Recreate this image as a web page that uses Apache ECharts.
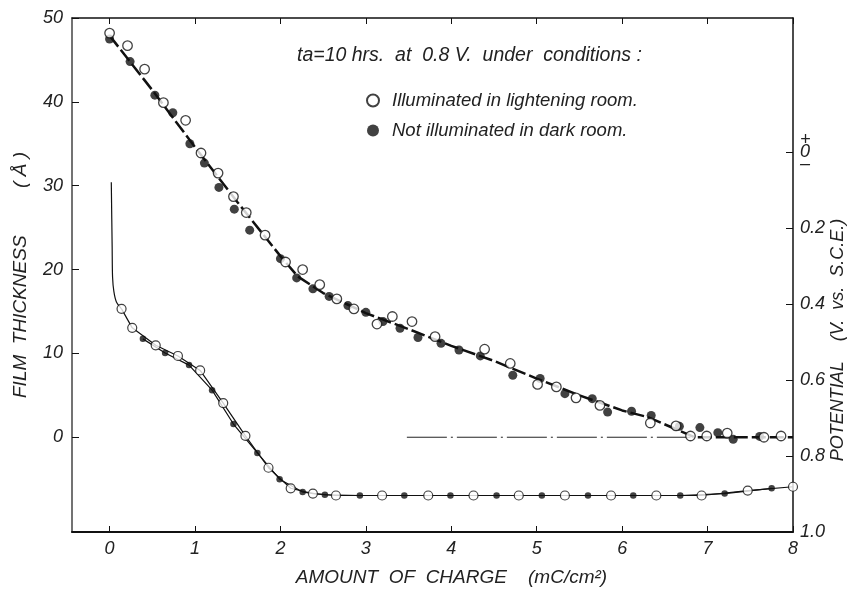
<!DOCTYPE html>
<html>
<head>
<meta charset="utf-8">
<script src="https://cdn.jsdelivr.net/npm/echarts@6/dist/echarts.min.js"></script>
<style>
  html, body { margin: 0; padding: 0; background: #fff; }
  #chart { width: 856px; height: 592px; }
</style>
</head>
<body>
<div id="chart"></div>
<script>
// 上の曲線: 膜厚 (Å)
var openX = [0.00, 0.21, 0.41, 0.63, 0.89, 1.07, 1.27, 1.45, 1.60, 1.82, 2.06, 2.26, 2.46, 2.66, 2.86, 3.13, 3.31, 3.54, 3.81, 4.39, 4.69, 5.01, 5.23, 5.46, 5.74, 6.33, 6.63, 6.80, 6.99, 7.23, 7.66, 7.86];
var openY = [48.2, 46.7, 43.9, 39.9, 37.8, 33.9, 31.5, 28.7, 26.8, 24.1, 20.9, 20.0, 18.2, 16.5, 15.3, 13.5, 14.4, 13.8, 12.0, 10.5, 8.8, 6.3, 6.0, 4.7, 3.8, 1.7, 1.35, 0.15, 0.15, 0.5, 0.0, 0.15];
var filledX = [0.00, 0.24, 0.53, 0.74, 0.94, 1.11, 1.28, 1.46, 1.64, 2.00, 2.19, 2.38, 2.57, 2.79, 3.00, 3.20, 3.40, 3.61, 3.88, 4.09, 4.34, 4.72, 5.04, 5.33, 5.65, 5.83, 6.11, 6.34, 6.67, 6.91, 7.12, 7.30, 7.61];
var filledY = [47.5, 44.8, 40.8, 38.7, 35.0, 32.7, 29.8, 27.2, 24.7, 21.3, 19.0, 17.7, 16.8, 15.7, 14.9, 13.8, 13.0, 11.9, 11.2, 10.4, 9.7, 7.4, 7.0, 5.2, 4.6, 3.0, 3.1, 2.6, 1.3, 1.15, 0.55, -0.25, 0.1];
var fitX = [0, 0.5, 1.0, 1.5, 2.0, 2.2, 2.5, 3.0, 3.5, 4.0, 4.5, 5.0, 5.5, 6.0, 6.3, 6.85, 8.0];
var fitY = [47.9, 41.4, 34.6, 28.0, 21.6, 19.2, 17.2, 14.8, 12.9, 10.9, 9.1, 7.0, 5.0, 3.2, 2.4, 0.0, 0.0];
var refX = [3.48, 6.8];
var refY = [0, 0];

// 下の曲線: 電位 (V vs. SCE)
var leadX = [0.02, 0.03, 0.035, 0.05, 0.08, 0.14];
var leadV = [0.08, 0.25, 0.33, 0.367, 0.395, 0.413];
var lowOpenX = [0.14, 0.265, 0.54, 0.80, 1.06, 1.33, 1.59, 1.86, 2.12, 2.38, 2.65, 3.19, 3.73, 4.26, 4.79, 5.33, 5.87, 6.40, 6.93, 7.47, 8.0];
var lowOpenV = [0.413, 0.463, 0.509, 0.537, 0.575, 0.661, 0.747, 0.831, 0.885, 0.899, 0.904, 0.904, 0.904, 0.904, 0.904, 0.904, 0.904, 0.904, 0.904, 0.891, 0.881];
var lowFilledX = [0.39, 0.65, 0.93, 1.20, 1.45, 1.73, 1.99, 2.26, 2.52, 2.93, 3.45, 3.99, 4.53, 5.06, 5.60, 6.13, 6.68, 7.20, 7.75];
var lowFilledV = [0.492, 0.529, 0.561, 0.627, 0.716, 0.792, 0.861, 0.895, 0.902, 0.904, 0.904, 0.904, 0.904, 0.904, 0.904, 0.904, 0.904, 0.899, 0.885];

var xTicks = [0, 1, 2, 3, 4, 5, 6, 7, 8];
var thickTicks = [0, 10, 20, 30, 40, 50];
var potTicks = [0, 0.2, 0.4, 0.6, 0.8, 1.0];

var openName = 'Illuminated in lightening room.';
var filledName = 'Not illuminated in dark room.';

function pairs(xs, ys) {
  return xs.map(function (x, i) { return [x, ys[i]]; });
}

var FONT = 'Liberation Sans';
var lbl = { fontFamily: FONT, fontStyle: 'italic', fontSize: 18, color: '#222' };

var chart = echarts.init(document.getElementById('chart'));

var option = {
  backgroundColor: '#fff',
  animation: false,
  grid: { left: 72, top: 18, right: 63, bottom: 56 },
  legend: {
    orient: 'vertical',
    left: 361,
    top: 86,
    itemGap: 11,
    itemWidth: 14,
    itemHeight: 12,
    data: [openName, filledName],
    textStyle: { fontFamily: FONT, fontStyle: 'italic', fontSize: 18.5, color: '#222', padding: [0, 0, 0, 7] }
  },
  graphic: [
    {
      type: 'text', left: 297, top: 46,
      style: { text: 'ta=10 hrs.  at  0.8 V.  under  conditions :', font: 'italic 19.5px ' + FONT, fill: '#222' }
    },
    {
      type: 'text', x: 838, y: 340, rotation: Math.PI / 2,
      style: { text: 'POTENTIAL    (V.  vs.  S.C.E.)', font: 'italic 18px ' + FONT, fill: '#222', align: 'center', verticalAlign: 'middle' }
    }
  ],
  xAxis: [{
    type: 'value', min: -0.44, max: 8,
    name: 'AMOUNT  OF  CHARGE    (mC/cm²)',
    nameLocation: 'middle', nameGap: 36,
    nameTextStyle: { fontFamily: FONT, fontStyle: 'italic', fontSize: 19, color: '#222', padding: [0, 0, 0, 38] },
    axisLine: { show: true, onZero: false, lineStyle: { color: '#111', width: 2 } },
    axisTick: { show: true, inside: true, length: 6, customValues: xTicks, lineStyle: { color: '#111' } },
    axisLabel: Object.assign({ customValues: xTicks, margin: 8 }, lbl),
    splitLine: { show: false }
  }, {
    type: 'value', min: -0.44, max: 8, position: 'top',
    axisLine: { show: true, onZero: false, lineStyle: { color: '#111', width: 1.5 } },
    axisTick: { show: true, inside: true, length: 6, customValues: xTicks, lineStyle: { color: '#111' } },
    axisLabel: { show: false },
    splitLine: { show: false }
  }],
  yAxis: [{
    type: 'value', min: -11.3, max: 50,
    name: 'FILM  THICKNESS         ( Å )',
    nameLocation: 'middle', nameGap: 42, nameRotate: 90,
    nameTextStyle: { fontFamily: FONT, fontStyle: 'italic', fontSize: 19, color: '#222' },
    axisLine: { show: true, onZero: false, lineStyle: { color: '#444', width: 1.5 } },
    axisTick: { show: true, inside: true, length: 7, customValues: thickTicks, lineStyle: { color: '#111' } },
    axisLabel: Object.assign({ customValues: thickTicks, margin: 9 }, lbl),
    splitLine: { show: false }
  }, {
    type: 'value', min: -0.352, max: 1.0, inverse: true, position: 'right',
    axisLine: { show: true, onZero: false, lineStyle: { color: '#111', width: 1.5 } },
    axisTick: { show: true, inside: true, length: 7, customValues: potTicks, lineStyle: { color: '#111' } },
    axisLabel: Object.assign({
      customValues: potTicks, margin: 7, lineHeight: 12,
      formatter: function (v) {
        if (v === 0) return '+\n0\n–';
        return v.toFixed(1);
      }
    }, lbl),
    splitLine: { show: false }
  }],
  series: [
    {
      name: 'fit', type: 'line', xAxisIndex: 0, yAxisIndex: 0,
      data: pairs(fitX, fitY), showSymbol: false, z: 2,
      lineStyle: { color: '#111', width: 2.5, type: [14, 4] }
    },
    {
      name: 'ref', type: 'line', xAxisIndex: 0, yAxisIndex: 0,
      data: pairs(refX, refY), showSymbol: false, z: 1,
      lineStyle: { color: '#222', width: 1, type: [40, 4, 2, 4] }
    },
    {
      name: 'lead', type: 'line', xAxisIndex: 0, yAxisIndex: 1,
      data: pairs(leadX, leadV), showSymbol: false, smooth: 0.3, z: 2,
      lineStyle: { color: '#111', width: 1.2 }
    },
    {
      name: 'lowOpenLine', type: 'line', xAxisIndex: 0, yAxisIndex: 1,
      data: pairs(lowOpenX, lowOpenV), showSymbol: false, z: 2,
      lineStyle: { color: '#111', width: 1.2 }
    },
    {
      name: 'lowFilledLine', type: 'line', xAxisIndex: 0, yAxisIndex: 1,
      data: pairs(lowFilledX, lowFilledV), showSymbol: false, z: 2,
      lineStyle: { color: '#111', width: 1.2 }
    },
    {
      name: openName, type: 'scatter', xAxisIndex: 0, yAxisIndex: 0,
      data: pairs(openX, openY), symbolSize: 9.5, z: 4,
      itemStyle: { color: '#fff', borderColor: '#111', borderWidth: 1.3 }
    },
    {
      name: filledName, type: 'scatter', xAxisIndex: 0, yAxisIndex: 0,
      data: pairs(filledX, filledY), symbolSize: 9, z: 3,
      itemStyle: { color: '#111' }
    },
    {
      name: openName, type: 'scatter', xAxisIndex: 0, yAxisIndex: 1,
      data: pairs(lowOpenX, lowOpenV), symbolSize: 9, z: 4,
      itemStyle: { color: '#fff', borderColor: '#111', borderWidth: 1.2 }
    },
    {
      name: filledName, type: 'scatter', xAxisIndex: 0, yAxisIndex: 1,
      data: pairs(lowFilledX, lowFilledV), symbolSize: 6.5, z: 3,
      itemStyle: { color: '#111' }
    }
  ]
};

chart.setOption(option);
</script>
</body>
</html>
